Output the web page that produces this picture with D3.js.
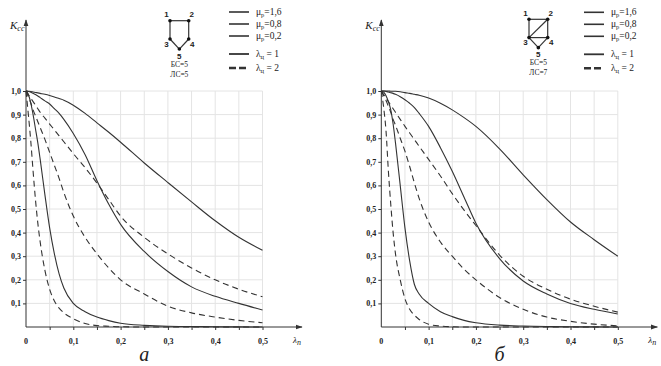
<!DOCTYPE html>
<html>
<head>
<meta charset="utf-8">
<script src="https://cdn.jsdelivr.net/npm/d3@7"></script>
<style>
  body { margin: 0; background: #fff; }
  svg { display: block; }
  text { font-family: "Liberation Serif", "DejaVu Serif", serif; fill: #222; }
  .tick text { font-weight: bold; font-size: 8px; fill: #222; }
</style>
</head>
<body>
<svg id="chart" width="661" height="366"></svg>
<script>
// λп sample points shared by all curves
const lambdaP = [0, .005, .01, .015, .02, .025, .03, .04, .05, .06, .07, .08, .1, .125, .15, .175, .2, .25, .3, .35, .4, .45, .5];

// panel а (БС=5, ЛС=5)
const aMu16L1 = [1, .999, .998, .996, .994, .992, .99, .986, .981, .975, .968, .961, .94, .905, .865, .825, .783, .695, .612, .53, .45, .38, .325];
const aMu08L1 = [1, .998, .995, .99, .985, .979, .972, .958, .945, .925, .905, .88, .82, .73, .62, .52, .435, .32, .235, .17, .13, .1, .072];
const aMu02L1 = [1, .985, .95, .9, .84, .78, .71, .56, .42, .31, .225, .165, .1, .065, .042, .027, .016, .007, .003, .002, .001, .0005, 0];
const aMu16L2 = [1, .985, .97, .955, .94, .925, .91, .885, .86, .835, .81, .785, .735, .675, .61, .54, .47, .38, .31, .25, .2, .16, .128];
const aMu08L2 = [1, .975, .95, .92, .895, .87, .845, .795, .74, .685, .63, .57, .47, .38, .31, .25, .2, .14, .088, .06, .042, .028, .018];
const aMu02L2 = [1, .9, .79, .66, .54, .44, .36, .24, .16, .11, .08, .06, .035, .015, .006, .003, .001, 0, 0, 0, 0, 0, 0];

// panel б (БС=5, ЛС=7)
const bMu16L1 = [1, 1, 1, 1, .999, .999, .999, .997, .993, .99, .986, .982, .97, .948, .92, .887, .85, .755, .645, .54, .445, .37, .3];
const bMu08L1 = [1, 1, .998, .996, .993, .99, .986, .976, .963, .948, .93, .905, .85, .76, .66, .55, .44, .29, .195, .14, .1, .075, .055];
const bMu02L1 = [1, .995, .98, .955, .92, .86, .78, .6, .42, .28, .18, .14, .1, .065, .044, .028, .018, .008, .004, .002, .001, .0005, 0];
const bMu16L2 = [1, .985, .97, .955, .94, .925, .91, .88, .85, .822, .794, .766, .71, .64, .565, .495, .43, .305, .215, .16, .118, .088, .063];
const bMu08L2 = [1, .98, .96, .935, .91, .88, .855, .8, .745, .68, .61, .545, .445, .36, .3, .245, .2, .125, .075, .042, .024, .012, .005];
const bMu02L2 = [1, .93, .83, .66, .52, .4, .31, .2, .12, .075, .05, .032, .012, .004, .001, 0, 0, 0, 0, 0, 0, 0, 0];

const yTicks = [.1, .2, .3, .4, .5, .6, .7, .8, .9, 1];
const xLabelTicks = [.1, .2, .3, .4, .5];
const xGridTicks = [.05, .1, .15, .2, .25, .3, .35, .4, .45, .5];
const muLabels = ["1,6", "0,8", "0,2"];
const lamLabels = ["1", "2"];

// graph diagrams
const nodeIds = [1, 2, 3, 4, 5];
const nodeCol = [0, 1, 0, 1, 0.5];
const nodeRow = [0, 0, 1, 1, 1.55];
const aEdges = [[1, 2], [1, 3], [2, 4], [3, 5], [4, 5]];
const bEdges = [[1, 2], [1, 3], [2, 4], [3, 4], [2, 3], [3, 5], [4, 5]];

const panels = [
  { ox: 26, letter: "а", series: [aMu16L1, aMu08L1, aMu02L1, aMu16L2, aMu08L2, aMu02L2],
    edges: aEdges, gx: 170, gy: 20.7, bs: "БС=5", ls: "ЛС=5", legX: 229 },
  { ox: 381.3, letter: "б", series: [bMu16L1, bMu08L1, bMu02L1, bMu16L2, bMu08L2, bMu02L2],
    edges: bEdges, gx: 529, gy: 19.3, bs: "БС=5", ls: "ЛС=7", legX: 584 }
];

const serif = "Liberation Serif, DejaVu Serif, serif";
const svg = d3.select("#chart");
const ink = "#333";
const fmt = v => d3.format(".1f")(v).replace(".", ",");

svg.append("defs").append("marker")
  .attr("id", "arrow").attr("viewBox", "0 0 10 10")
  .attr("refX", 9).attr("refY", 5)
  .attr("markerWidth", 7).attr("markerHeight", 7)
  .attr("markerUnits", "userSpaceOnUse")
  .attr("orient", "auto")
  .append("path").attr("d", "M0,1.5L10,5L0,8.5Z").attr("fill", ink);

panels.forEach(p => {
  const g = svg.append("g").attr("font-family", serif);
  const x = d3.scaleLinear().domain([0, 0.5]).range([p.ox, p.ox + 236.5]);
  const y = d3.scaleLinear().domain([0, 1]).range([327, 91]);

  // grid
  g.append("g").selectAll("line").data(xGridTicks).join("line")
    .attr("x1", d => x(d)).attr("x2", d => x(d))
    .attr("y1", y(0)).attr("y2", y(1))
    .attr("stroke", "#e4e4e4").attr("stroke-width", 1);
  g.append("g").selectAll("line").data(yTicks).join("line")
    .attr("x1", x(0)).attr("x2", x(0.5))
    .attr("y1", d => y(d)).attr("y2", d => y(d))
    .attr("stroke", "#e4e4e4").attr("stroke-width", 1);

  // axes
  const yAxis = g.append("g").attr("transform", `translate(${x(0)},0)`)
    .call(d3.axisLeft(y).tickValues(yTicks).tickFormat(fmt).tickSize(3).tickPadding(2))
    .attr("font-family", serif);
  yAxis.select(".domain").remove();
  yAxis.selectAll(".tick line").attr("stroke", ink);
  yAxis.selectAll(".tick text").attr("fill", "#222");

  const xAxis = g.append("g").attr("transform", `translate(0,${y(0)})`)
    .call(d3.axisBottom(x).tickValues(xGridTicks)
      .tickFormat(d => xLabelTicks.some(t => Math.abs(t - d) < 1e-9) ? fmt(d) : "")
      .tickSize(3).tickPadding(8))
    .attr("font-family", serif);
  xAxis.select(".domain").remove();
  xAxis.selectAll(".tick line").attr("stroke", ink);
  xAxis.selectAll(".tick text").attr("fill", "#222");

  g.append("text").attr("x", x(0)).attr("y", 344).attr("text-anchor", "middle")
    .attr("font-weight", "bold").attr("font-size", 8).text("0");

  g.append("line").attr("x1", x(0)).attr("y1", y(0)).attr("x2", x(0)).attr("y2", 20)
    .attr("stroke", ink).attr("stroke-width", 1).attr("marker-end", "url(#arrow)");
  g.append("line").attr("x1", x(0)).attr("y1", y(0)).attr("x2", p.ox + 276).attr("y2", y(0))
    .attr("stroke", ink).attr("stroke-width", 1).attr("marker-end", "url(#arrow)");

  // axis titles
  const ky = g.append("text").attr("x", p.ox - 16).attr("y", 29)
    .attr("font-style", "italic").attr("font-size", 11);
  ky.append("tspan").text("K");
  ky.append("tspan").attr("font-size", 8).attr("dy", 2).text("сс");

  const lx = g.append("text").attr("x", p.ox + 267).attr("y", 343)
    .attr("font-style", "italic").attr("font-size", 9);
  lx.append("tspan").text("λ");
  lx.append("tspan").attr("font-size", 8).attr("dy", 2).text("п");

  g.append("text").attr("x", (x(0) + x(0.5)) / 2).attr("y", 361)
    .attr("text-anchor", "middle").attr("font-style", "italic").attr("font-size", 20)
    .text(p.letter);

  // curves
  const line = d3.line().x((d, i) => x(lambdaP[i])).y(d => y(d)).curve(d3.curveMonotoneX);
  p.series.forEach((vals, i) => {
    g.append("path").datum(vals).attr("d", line)
      .attr("fill", "none").attr("stroke", ink).attr("stroke-width", 1.1)
      .attr("stroke-dasharray", i >= 3 ? "6,4" : null);
  });

  // graph diagram
  const gxs = d3.scaleLinear().domain([0, 1]).range([p.gx, p.gx + 18.7]);
  const gys = d3.scaleLinear().domain([0, 1]).range([p.gy, p.gy + 18.3]);
  const pos = id => [gxs(nodeCol[id - 1]), gys(nodeRow[id - 1])];
  const dg = g.append("g");
  dg.selectAll("line").data(p.edges).join("line")
    .attr("x1", d => pos(d[0])[0]).attr("y1", d => pos(d[0])[1])
    .attr("x2", d => pos(d[1])[0]).attr("y2", d => pos(d[1])[1])
    .attr("stroke", ink).attr("stroke-width", 1.2);
  dg.selectAll("circle").data(nodeIds).join("circle")
    .attr("cx", d => pos(d)[0]).attr("cy", d => pos(d)[1]).attr("r", 1.8).attr("fill", "#111");
  const labOff = [[-3.5, -3.5], [3, -3.5], [-3.5, 7.5], [3.5, 7.5], [0, 9.5]];
  dg.selectAll("text").data(nodeIds).join("text")
    .attr("x", d => pos(d)[0] + labOff[d - 1][0])
    .attr("y", d => pos(d)[1] + labOff[d - 1][1])
    .attr("text-anchor", "middle").style("font-family", "Liberation Sans, Arial, sans-serif")
    .attr("font-weight", "bold").attr("font-size", 8).text(d => d);
  const cx = gxs(0.5);
  g.append("text").attr("x", cx).attr("y", p.gy + 46).attr("text-anchor", "middle")
    .attr("font-size", 7.5).text(p.bs);
  g.append("text").attr("x", cx).attr("y", p.gy + 56).attr("text-anchor", "middle")
    .attr("font-size", 7.5).text(p.ls);

  // legend
  const rows = [
    ...muLabels.map(m => ({ sym: "μ", sub: "р", val: "=" + m, dash: false, w: 1.6 })),
    ...lamLabels.map(l => ({ sym: "λ", sub: "ц", val: " = " + l, dash: l === "2", w: l === "2" ? 2.6 : 1.8 }))
  ];
  const rowY = [12, 24, 36, 54, 68];
  rows.forEach((r, i) => {
    const yy = rowY[i] + (p.ox > 100 ? 0.3 : 0);
    g.append("line").attr("x1", p.legX).attr("x2", p.legX + 20).attr("y1", yy).attr("y2", yy)
      .attr("stroke", ink).attr("stroke-width", r.w).attr("stroke-dasharray", r.dash ? "7,3" : null);
    const t = g.append("text").attr("x", p.legX + 27).attr("y", yy + 3).attr("font-size", 9.5);
    t.append("tspan").text(r.sym);
    t.append("tspan").attr("font-size", 6.5).attr("dy", 2).text(r.sub);
    t.append("tspan").attr("dy", -2).text(r.val);
  });
});
</script>
</body>
</html>
